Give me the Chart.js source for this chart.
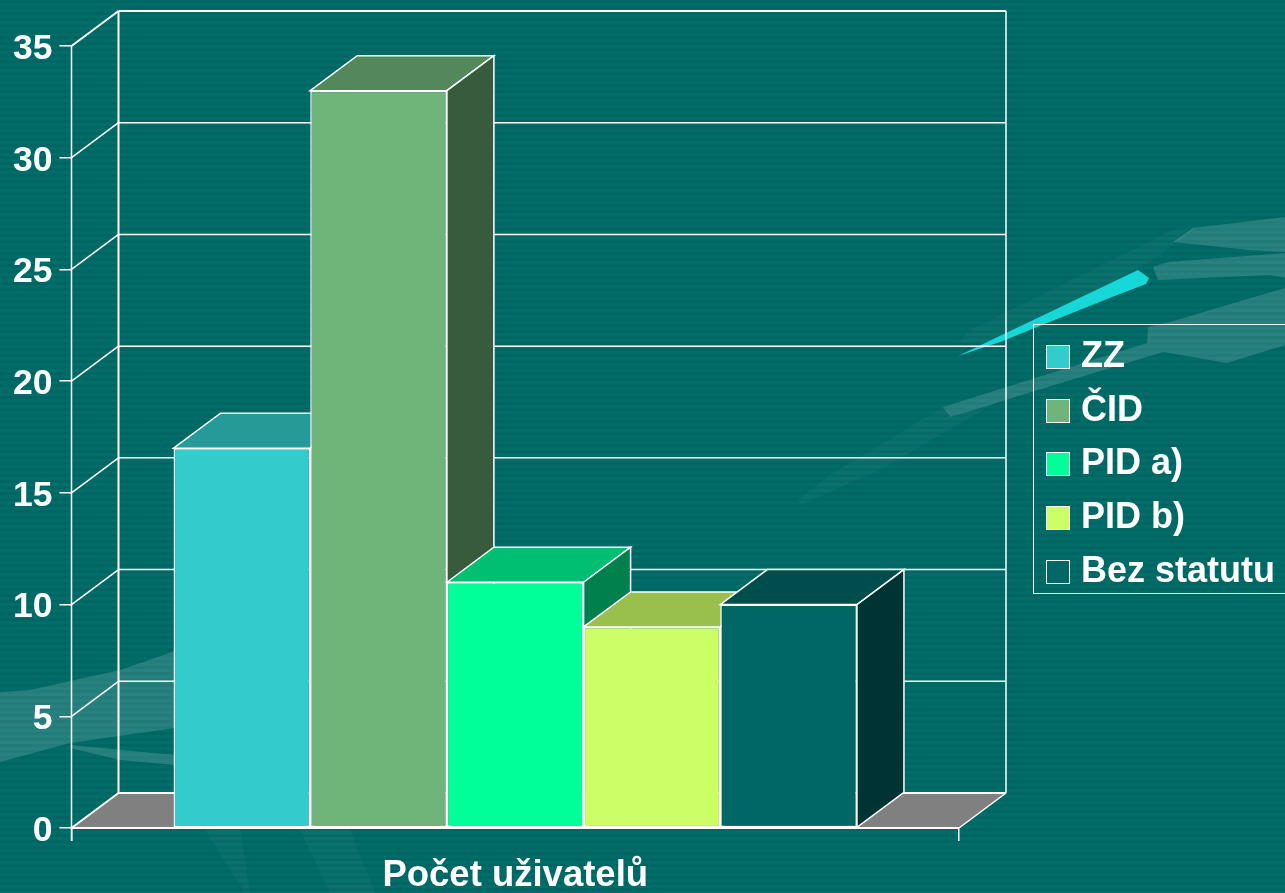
<!DOCTYPE html>
<html>
<head>
<meta charset="utf-8">
<title>Počet uživatelů</title>
<script src="https://cdn.jsdelivr.net/npm/chart.js@4"></script>
<style>
  html, body { margin: 0; padding: 0; overflow: hidden; }
  body {
    width: 1285px; height: 893px; position: relative;
    background: repeating-linear-gradient(180deg, #006663 0 3px, #006d68 3px 6px);
    font-family: "Liberation Sans", Arial, sans-serif;
  }
  #deco, #wrap { position: absolute; left: 0; top: 0; }
  #wrap { width: 1285px; height: 893px; }
  #legend {
    position: absolute; left: 1033px; top: 324px; width: 260px; height: 270px;
    border: 1.5px solid #fff; box-sizing: border-box;
    color: #fff; font-weight: bold; font-size: 36px;
  }
  #legend .row { position: absolute; left: 12px; height: 40px; line-height: 40px; white-space: nowrap; }
  #legend .swatch {
    display: inline-block; width: 24px; height: 24px; border: 1.5px solid #fff;
    box-sizing: border-box; margin-right: 11px; vertical-align: -2px;
  }
</style>
</head>
<body>
<svg id="deco" width="1285" height="893">
  <g fill="#fff" fill-opacity="0.035">
    <polygon points="958,343 970,330 1173,230 1200,225 1150,262 1000,345"/>
    <polygon points="798,500 830,475 943,407 950,417 1000,400 880,470 800,505"/>
    <polygon points="205,830 240,828 250,893 245,893"/>
    <polygon points="300,830 350,830 375,893 330,893"/>
  </g>
  <g fill="#fff" fill-opacity="0.15">
    <polygon points="1173,242 1193,228 1285,217 1285,252 1250,250"/>
    <polygon points="1153,267 1168,262 1285,253 1285,278 1270,275 1158,280"/>
    <polygon points="943,407 1147,343 1148,327 1170,322 1285,288 1285,345 1227,363 1163,352 950,417"/>
    <polygon points="0,692 30,690 120,670 175,651 175,728 70,743 0,762"/>
    <polygon points="70,745 175,755 175,765 120,760 70,748"/>
  </g>
  <polygon fill="#16d8d8" points="958,356 1138,270 1149,278 1146,284 1112,297 1000,342"/>
</svg>
<div id="wrap"><canvas id="chart" width="1285" height="893"></canvas></div>
<div id="legend"></div>

<script>
const categories = ["Počet uživatelů"];
const seriesNames = ["ZZ", "ČID", "PID a)", "PID b)", "Bez statutu"];
const seriesValues = [17, 33, 11, 9, 10];
const seriesColors = ["#33CCCC", "#6FB579", "#00FF99", "#CCFF66", "#006666"];

// depth of the fake 3D box, in px
const depthX = 47;
const depthY = -35;

function shade(hex, f) {
  const n = parseInt(hex.slice(1), 16);
  const r = Math.round((n >> 16 & 255) * f);
  const g = Math.round((n >> 8 & 255) * f);
  const b = Math.round((n & 255) * f);
  return `rgb(${r},${g},${b})`;
}

function poly(ctx, pts, fill, stroke, width) {
  ctx.beginPath();
  pts.forEach((p, i) => i ? ctx.lineTo(p[0], p[1]) : ctx.moveTo(p[0], p[1]));
  ctx.closePath();
  if (fill) { ctx.fillStyle = fill; ctx.fill(); }
  if (stroke) { ctx.strokeStyle = stroke; ctx.lineWidth = width; ctx.stroke(); }
}

function line(ctx, x1, y1, x2, y2, width) {
  ctx.beginPath();
  ctx.moveTo(x1, y1);
  ctx.lineTo(x2, y2);
  ctx.strokeStyle = "#fff";
  ctx.lineWidth = width;
  ctx.stroke();
}

const wallsPlugin = {
  id: "walls",
  // labels sit a little lower than the library centres them
  beforeDraw(chart) {
    chart.scales.y.getLabelItems().forEach(item => { item.textOffset = 3; });
  },
  // back wall, left wall and floor
  beforeDatasetsDraw(chart) {
    const { ctx, chartArea: a, scales: { y } } = chart;
    ctx.save();
    poly(ctx, [[a.left, a.bottom], [a.left + depthX, a.bottom + depthY],
      [a.right + depthX, a.bottom + depthY], [a.right, a.bottom]], "#808080");
    y.ticks.forEach(t => {
      const py = y.getPixelForValue(t.value);
      const w = (t.value === 0 || t.value === 35) ? 2 : 1.5;
      line(ctx, a.left, py, a.left + depthX, py + depthY, w);
      line(ctx, a.left + depthX, py + depthY, a.right + depthX, py + depthY, w);
    });
    line(ctx, a.left + depthX, a.top + depthY, a.left + depthX, a.bottom + depthY, 2);
    line(ctx, a.right + depthX, a.top + depthY, a.right + depthX, a.bottom + depthY, 1.5);
    line(ctx, a.right, a.bottom, a.right + depthX, a.bottom + depthY, 1.5);
    line(ctx, a.left, a.top, a.left, a.bottom + 13, 1.5);
    ctx.restore();
  },
  // the library paints the last dataset first, we need left to right
  beforeDatasetDraw() {
    return false;
  },
  afterDatasetsDraw(chart) {
    const { ctx, chartArea: a } = chart;
    ctx.save();
    seriesNames.forEach((name, i) => {
      const meta = chart.getDatasetMeta(i);
      const bar = meta.data[0];
      const left = bar.x - bar.width / 2;
      const right = bar.x + bar.width / 2;
      poly(ctx, [[left, bar.y], [left + depthX, bar.y + depthY],
        [right + depthX, bar.y + depthY], [right, bar.y]], shade(seriesColors[i], 0.75), "#fff", 1.5);
      poly(ctx, [[right, bar.y], [right + depthX, bar.y + depthY],
        [right + depthX, bar.base + depthY], [right, bar.base]], shade(seriesColors[i], 0.5), "#fff", 1.5);
      meta.controller.draw();
    });
    line(ctx, a.left, a.bottom, a.right, a.bottom, 2);
    ctx.restore();
  }
};

new Chart(document.getElementById("chart"), {
  type: "bar",
  data: {
    labels: categories,
    datasets: seriesNames.map((name, i) => ({
      label: name,
      data: [seriesValues[i]],
      backgroundColor: seriesColors[i],
      borderColor: "#fff",
      borderWidth: 1.5,
      borderSkipped: false
    }))
  },
  plugins: [wallsPlugin],
  options: {
    responsive: false,
    animation: false,
    layout: { padding: { top: 46, right: 326, left: 0, bottom: 0 } },
    categoryPercentage: 0.77,
    barPercentage: 1,
    plugins: { legend: { display: false }, title: { display: false }, tooltip: { enabled: false } },
    scales: {
      x: {
        afterFit(s) { s.height = 65; },
        grid: { drawOnChartArea: false, color: "#fff", tickLength: 13, lineWidth: 1.5 },
        border: { display: false },
        ticks: { color: "#fff", padding: 13, font: { family: "Liberation Sans", size: 36.5, weight: "bold" } }
      },
      y: {
        min: 0,
        max: 35,
        afterFit(s) { s.width = 71.5; },
        grid: { drawOnChartArea: false, color: "#fff", tickLength: 12, lineWidth: 1.5 },
        border: { display: false },
        ticks: { stepSize: 5, color: "#fff", padding: 7, font: { family: "Liberation Sans", size: 35.5, weight: "bold" } }
      }
    }
  }
});

// legend box on the right, built from the same arrays
const legendEl = document.getElementById("legend");
seriesNames.forEach((name, i) => {
  const row = document.createElement("div");
  row.className = "row";
  row.style.top = (10 + i * 53.7) + "px";
  const sw = document.createElement("span");
  sw.className = "swatch";
  sw.style.background = seriesColors[i];
  row.appendChild(sw);
  row.appendChild(document.createTextNode(name));
  legendEl.appendChild(row);
});
</script>
</body>
</html>
